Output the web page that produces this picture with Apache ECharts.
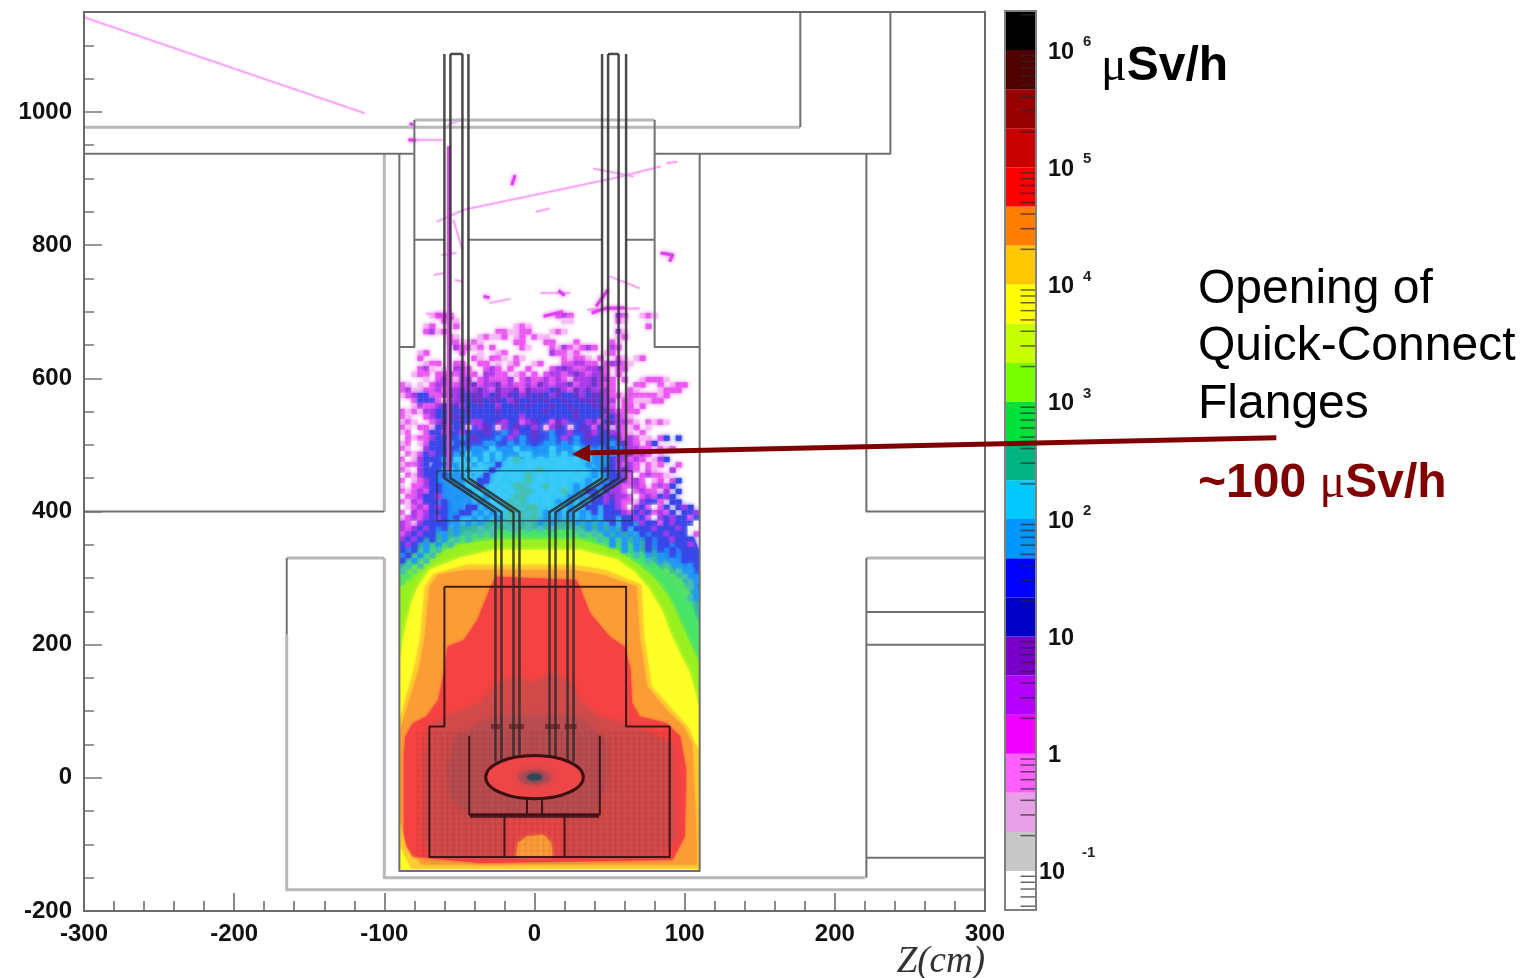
<!DOCTYPE html>
<html><head><meta charset="utf-8">
<style>html,body{margin:0;padding:0;background:#fff}#c{width:1533px;height:978px;filter:blur(0.6px)}</style>
<script src="https://cdn.jsdelivr.net/npm/echarts@6/dist/echarts.min.js"></script>
</head><body><div id="c"></div>
<script>
// ---- colour scale (uSv/h): band edges and colours, bottom to top
const colorEdges=[0.0464,0.1,0.215,0.464,1,2.15,4.64,10,21.5,46.4,100,215,464,1000,2150,4640,1e4,2.15e4,4.64e4,1e5,2.15e5,4.64e5,1e6,2154435];
const colorBands=['#ffffff','#c8c8c8','#e6a0e6','#ff60ff','#f000ff','#b400ff','#7800c8','#0000c8','#0000ff','#0096ff','#00c8ff','#00b482','#00e13c','#78ff00','#c8ff00','#ffff00','#ffc800','#ff7d00','#ff0000','#c80000','#960000','#500000','#000000'];
const colorDecades=[0.01,0.1,1,10,100,1000,1e4,1e5,1e6];
const colorMultipliers=[2,3,4,5,6,7,8,9];
const colorTickLabels=[[1e6,'10','6'],[1e5,'10','5'],[1e4,'10','4'],[1e3,'10','3'],[1e2,'10','2'],[10,'10',''],[1,'1',''],[0.1,'10','-1']];

// ---- dose-rate contours, in (Z cm, height cm)
const blueArea=[[-90,372],[-85,400],[-74,437],[-61,512],[-36,540],[30,540],[57,515],[66,457],[84,397],[104,372],[110,340],[110,200],[-90,200]];
const azureArea=[[-90,335],[-78,380],[-65,400],[-65,455],[-45,490],[-20,497],[30,500],[48,490],[62,455],[66,400],[85,370],[100,335],[110,280],[110,200],[-90,200]];
const cyanArea=[[-60,370],[-48,395],[-44,440],[-35,470],[-10,478],[25,482],[40,470],[50,440],[62,395],[72,370],[40,340],[-30,340]];
const tealArea=[[-90,320],[-81,345],[-70,362],[-52,378],[-25,388],[30,388],[61,372],[75,352],[88,325],[100,295],[110,260],[110,200],[-90,200]];
const greenArea=[[-90,305],[-81,337],[-70,350],[-52,362],[-25,372],[30,372],[61,357],[75,332],[88,307],[97,298],[103,280],[106,250],[110,230],[110,-140],[-90,-140]];
const limeArea=[[-90,285],[-82,315],[-70,332],[-52,350],[-27,358],[30,358],[55,342],[68,322],[80,300],[90,270],[96,240],[104,200],[110,170],[110,-140],[-90,-140]];
const yellowArea=[[-90,170],[-87,215],[-82,262],[-78,285],[-70,312],[-50,330],[-27,342],[30,342],[55,328],[66,310],[76,285],[85,250],[90,220],[96,190],[103,160],[108,120],[110,100],[110,-140],[-90,-140]];
const amberArea=[[-90,85],[-86,118],[-80,165],[-76,212],[-73,287],[-67,306],[-45,320],[25,320],[47,312],[71,290],[73,212],[78,137],[92,102],[102,77],[107,52],[110,40],[110,-136],[-82,-136],[-90,-100]];
const orangeArea=[[-90,67],[-84,112],[-77,162],[-73,212],[-70,287],[-64,305],[-45,312],[25,312],[45,305],[68,287],[70,212],[75,137],[88,102],[99,77],[105,52],[107,-38],[108,-100],[108,-130],[-75,-130],[-85,-100],[-90,-60]];
const redArea=[[-87,-83],[-87,32],[-86,62],[-81,82],[-72,92],[-64,117],[-60,162],[-58,197],[-47,207],[-38,237],[-30,282],[-26,302],[28,297],[30,287],[37,247],[50,212],[60,197],[64,162],[65,112],[70,92],[88,82],[97,62],[101,12],[100,-88],[92,-123],[-36,-128],[-81,-118],[-85,-103]];
const darkRedArea=[[-70,77],[-58,92],[-36,112],[-27,137],[-14,152],[0,142],[12,157],[24,142],[30,117],[41,92],[66,77],[92,52],[94,-88],[84,-118],[-70,-118],[-74,-88],[-74,32]];
const coreHaloArea=[[-58,17],[-52,62],[-27,92],[30,92],[48,52],[48,-8],[39,-58],[-43,-58],[-56,-28]];
const lowerRedArea=[[-20,-63],[20,-63],[20,-118],[-20,-118]];
const orangeHole=[[-12,-118],[-11,-98],[-5,-88],[6,-86],[11,-98],[12,-118]];
const maskAreas=[[[-99,-149],[-90,-149],[-90,720],[-99,720]],[[110,-149],[120,-149],[120,720],[110,720]],[[-99,-149],[120,-149],[120,-140.5],[-99,-140.5]]];

// ---- speckled low-dose cells: rows from height 694 down by 8 cm, columns from Z -88 by 4 cm
const speckleCodes={w:'#ffffff',p:'#f6bcf6',m:'#ea58f2',v:'#ac3cea',d:'#6e34cc',b:'#3a48e8',a:'#2498f8',c:'#3ccaf8',t:'#48c0b0',g:'#58e068'};
const speckleRows=[
".....pmmm.................mvm.......vm..pmp........",
".......mpp.................pp.......mp.............",
"....pm..pm.........pmp...................m.........",
"....mvpm........mmppmm...pmp........vp.............",
"........mp...pmppm.pm.mpp...........pm.............",
"........mmppmp.....mm...mm...m.....mp..............",
".........vmmpm.m....mp...mpvmpmvm..vm..............",
"...pm.....m..p..pm.......vmmpm....pm...............",
"...m........mp.mmp.mp......mpmmp.m..mp.pm..........",
"....pmm..mm..mm.p.pm..pm...mmvvmm.mvvmp............",
"...mvp.p.vvm..mvm.m..m...mvdvmmvvdm.mm.............",
"..pmm.mmvmvmm.vvmm.pm.m.mvvmvdvmvvm.m..............",
"....p.mvmpvv.mvmmmv.mvmmvmvmpvvvdvvm.m..pmmmp......",
"mp.p.mvvmmvvdmvvdmvmmvmdvmvvdmvvdvmm...mm..m.pmm...",
"mvppmmvmvvdvvdvmdvvdmdvvvbdvmdvdvvvm..mp...pmmm....",
"pmvbbmmvdvdbddvbdvdbvdbdbvdbbdvbddvmmpmmmmmpm......",
"..mbbbmpvvdbddbddbvdbbdbdbbdbbdddbvv.mmpppmm.......",
"..pvmmvdbdvbbdbbvbbdbdbbbdbbdbbbddvm.mm.m..........",
"mpmpvvbbdbbdbbbbdbbbbbbbdbbbbdbbbbdvmmmm...........",
"mp..mvbbbdbbbbbbbbbbvbbbbbbbbdbbbbvbvmp............",
"pmp..mvdbbdbvvb.dv.bmvd.bmdv..bvdmbdvvmp.mpmp......",
"mp.mmpbdvbbp.vd.pv.d.bv.pvd.p.d.mbv.vmpm.p.........",
"pmw.mbbvb.vb.bd..a.vb.d..ab.vb.dv.bvvmp.m..........",
"wmpmmvbbb.a.d.b.a.v.a.db.a.v.a.d.b.bdmvmpp.mb.b....",
"pmwpmbb.a.b...aa.ba.a.b.aa.a.a.b.b.a.dvm.mb........",
"mpw.vbb.b.a.aa.c.a.c.a.a.c.a.c.a.a..a.vvmm.mpm.....",
"wmpmbvbb.a.c.ac.c.a.cc.a.c.c.a.c.a.a.vdmvm.p.......",
"mwpvbb.a.cc.c.c.c.ct.c.c.ccc.c.c.a.bvvmvm.pvb......",
"pmmvb.b.a.cc.c..b.c..cc.c.cc...a.a.bvmvm.mpm..m....",
"mpwvbb.ac.c.cc.b.c...c.t..c.c.c.a.bbvdvm.mp..v.....",
"wmpvbb.b.a.c..b.c.cc.t.c.c.c..c.a.abbvmwmvmmp......",
"mwpmvb.a.a.c.bb.c..c.t.c.c.c.c.a..abbdmvmwpm.mb....",
"pwmmvbb.aa.c.b.c.c.tt.c.tc.c.a.a.abbvmmvm.mvmb.....",
"mpmvmbb..a.a.c..c.c.tt.c.c.t.a.bb.bvvmwmvmmpv.b....",
"wmmvbbv.a.aa..a.cc.tt.c.c.c.a.a.bbvdvvmwmvmbvb.....",
"mpvmbb.b.a.a.a.c..t.t.c.c.a.a.a.bbvbvmmpvbbm.bb....",
"wpmvmbvb.a.bb.a.c.tt.tt.c.c.a..bb.bbvmwvbmwmb.bvb..",
"mwvmvbbb..bb.a.a..t.t.t.a.a.a.a.b.bbbvmbvbmvmb.bbv.",
"pmvmvbvb.b..a.a.a.tt.tt.a.a.a.a.a.bb.bbvbmwvbvbbmb.",
"vmpvbbbb.a.a.a...t.t.t.a.a...a.a.a.b.bb.vbbmbvbbbw.",
"vmvbvb.b.a...t.t..tt.t.t.t...t.a.a.a.b.bbbvbbbvbw..",
"mvbvbb.a.a.t.t.t..............t.t.a.a.a.b.bbvbbbwm.",
"vbvb.b.a.t.t.....................t.a.a.a.b.bbvbbb..",
"bvb.a.a.t..........................a.a.a.b.bb.bbv..",
"b.b.a.t..............................a.a.b.b.b.bb.",
".b.a.t.................................t.a.a.b.bbb",
"b.a.t....................................t.a.a.bb.",
".t.t........................................t.a.ab",
"t.g.........................................g.t.a.",
".g...........................................g.t.ab",
"g.............................................g.ta",
"..............................................g.t.",
"...............................................g.a",
"................................................ta"];

// ---- isolated tracks above the main cloud
const paleTracks=[[[-300,1142],[-113,998]],[[-65,835],[-47,853],[52,900],[84,918]],[[39,915],[66,903]],[[88,923],[95,925]],[[-82,958],[-61,958]],[[-58,980],[-48,989]],[[-67,755],[-60,758]],[[-53,748],[-48,745]],[[-62,785],[-52,788]],[[-30,713],[-16,719]],[[4,728],[24,728]],[[-72,697],[-54,693]],[[35,703],[70,705]],[[50,753],[70,735]],[[1,850],[10,855]],[[-54,838],[-48,793]]];
const strongTracks=[[[-83,983],[-80,978]],[[-84,958],[-79,957]],[[-13,905],[-15,890]],[[-34,723],[-30,721]],[[6,693],[19,700]],[[41,708],[49,733]],[[84,788],[92,785],[90,775]],[[-66,696],[-54,690]],[[38,698],[47,705],[60,706]],[[16,732],[20,724]]];
const pipeTrack=[[[-57,948],[-57,460]]];

// ---- detector geometry
const thickWalls=[[[-300,977],[177,977]],[[-80,988],[80,988]],[[-100,937],[-100,400]],[[-100,330],[-100,-150],[220,-150]],[[-165,215],[-165,-168],[300,-168]],[[221,330],[300,330]],[[-165,330],[-100,330]]];
const thinWalls=[[[177,1150],[177,977]],[[237,1150],[237,937],[80,937]],[[-300,937],[-80,937]],[[-80,988],[-80,647],[-90,647]],[[80,988],[80,647],[110,647]],[[-90,937],[-90,-140],[110,-140],[110,937]],[[-300,400],[-100,400]],[[221,937],[221,400],[300,400]],[[221,330],[221,-150]],[[221,249],[300,249]],[[221,200],[300,200]],[[221,-120],[300,-120]],[[-80,808],[-60,808]],[[-44,808],[45,808]],[[61,808],[80,808]],[[-165,330],[-165,215]]];
const pipeWalls=[
 [[-60,1087],[-60,450],[-26,399],[-26,24]],[[-56,1087],[-56,450],[-22,399],[-22,24]],[[-48,1087],[-48,450],[-14,399],[-14,32]],[[-44,1087],[-44,450],[-10,399],[-10,32]],
 [[45,1087],[45,450],[10,399],[10,32]],[[49,1087],[49,450],[14,399],[14,32]],[[56,1087],[56,450],[22,399],[22,24]],[[61,1087],[61,450],[26,399],[26,24]],
 [[-56,1087],[-48,1087]],[[49,1087],[56,1087]]];
const chamberBox=[[[-65,461],[65,461]],[[-65,461],[-65,386],[65,386],[65,461]]];
const shieldOutline=[[[-60,287],[61,287],[61,77],[90,77],[90,-119],[-70,-119],[-70,77],[-60,77],[-60,287]]];
const innerVessel=[[[-43.5,63],[-43.5,-55],[43.5,-55],[43.5,63]],[[-20,-55],[-20,-119]],[[20,-55],[20,-119]],[[-5,-30],[-5,-55]],[[5,-30],[5,-55]]];
const vesselFloor=[[[-43,-57],[43,-57]]];
const pipeCollars=[[[-29,77],[-23,77]],[[-17,77],[-7,77]],[[7,77],[17,77]],[[20,77],[28,77]]];
const targetCentre=[0,1], targetRadius=32.5;
const meshZ=[-78,-74,-70,-66,-62,-58,-54,-50,-46,-42,-38,-34,-30,-26,-22,-18,-14,-10,-6,-2,2,6,10,14,18,22,26,30,34,38,42,46,50,54,58,62,66,70,74,78,82,86,90];
const meshHeight=[-117,-109,-101,-93,-85,-77,-69,-61,-53,-45,-37,-29,-21,-13,-5,3,11,19,27,35,43,51,59,67];

// ---- annotation arrow
const arrowShaft=[[494,510.5],[37,488]];
const arrowHead=[[25,486],[37,501],[37,474]];

const fill=(pts,color,z,soft)=>({type:'custom',xAxisIndex:0,yAxisIndex:0,z,silent:true,clip:false,data:[0],
  renderItem:(p,api)=>({type:'polygon',shape:{points:pts.map(q=>api.coord(q))},style:{fill:color,shadowBlur:soft||0,shadowColor:color}})});
const strokes=(lines,color,w,z,soft)=>({type:'custom',xAxisIndex:0,yAxisIndex:0,z,silent:true,clip:false,data:lines.map((_,i)=>i),
  renderItem:(p,api)=>({type:'polyline',shape:{points:lines[api.value(0)].map(q=>api.coord(q))},style:{fill:null,stroke:color,lineWidth:w,lineCap:'butt',lineJoin:'round',shadowBlur:soft||0,shadowColor:color}})});
const ell=(cx,cy,r,fillC,stroke,w,z,soft)=>({type:'custom',xAxisIndex:0,yAxisIndex:0,z,silent:true,data:[0],
  renderItem:(p,api)=>{const c=api.coord([cx,cy]),s=api.size([r,r]);return {type:'ellipse',shape:{cx:c[0],cy:c[1],rx:s[0],ry:s[1]},style:{fill:fillC,stroke:stroke,lineWidth:w,shadowBlur:soft||0,shadowColor:fillC}};}});

const speckleData=[];
speckleRows.forEach((row,r)=>{for(let c=0;c<row.length&&c<50;c++){const k=row[c];if(k!=='.')speckleData.push([-88+4*c,694-8*r,Object.keys(speckleCodes).indexOf(k)]);}});
const codeColours=Object.values(speckleCodes);
const colorTicks=[];colorDecades.forEach(d=>colorMultipliers.forEach(m=>{const v=d*m;if(v>colorEdges[0]&&v<colorEdges[23])colorTicks.push(v);}));

const font='"Liberation Sans",Arial,sans-serif';
const chart=echarts.init(document.getElementById('c'),null,{renderer:'canvas'});
chart.setOption({
 animation:false,backgroundColor:'#fff',
 grid:[{left:84,right:548,top:12,height:899,show:true,borderColor:'#6a6a6a',borderWidth:2,backgroundColor:'transparent',z:30,outerBoundsMode:'none'},
       {left:1005,width:31,top:11,height:899,show:false,outerBoundsMode:'none'}],
 xAxis:[{gridIndex:0,type:'value',min:-300,max:300,interval:100,splitLine:{show:false},
   axisLine:{onZero:false,lineStyle:{color:'#555',width:2}},axisTick:{inside:true,length:18,lineStyle:{color:'#666',width:1.5}},
   minorTick:{show:true,splitNumber:5,length:10,lineStyle:{color:'#666',width:1.5}},
   axisLabel:{margin:11,color:'#111',fontFamily:font,fontWeight:'bold',fontSize:24}},
  {gridIndex:1,type:'value',min:0,max:1,show:false}],
 yAxis:[{gridIndex:0,type:'value',min:-200,max:1150,interval:200,splitLine:{show:false},
   axisLine:{onZero:false,lineStyle:{color:'#555',width:2}},axisTick:{inside:true,length:18,lineStyle:{color:'#777',width:1.5}},
   axisLabel:{margin:12,color:'#111',fontFamily:font,fontWeight:'bold',fontSize:24,showMaxLabel:false,padding:[3,0,0,0],formatter:v=>String(v)}},
  {gridIndex:0,type:'value',min:-200,max:1150,interval:50,position:'left',splitLine:{show:false},
   axisLine:{show:false,onZero:false},axisLabel:{show:false},axisTick:{inside:true,length:10,lineStyle:{color:'#777',width:1.5}}},
  {gridIndex:1,type:'log',logBase:10,min:colorEdges[0],max:colorEdges[23],position:'right',splitLine:{show:false},
   axisLine:{show:false},axisTick:{show:false},axisLabel:{show:false}}],
 graphic:[
  {type:'text',x:985,y:962,z:50,style:{text:'Z(cm)',font:'italic 37px "Liberation Serif",serif',fill:'#333',align:'right',verticalAlign:'middle'}},
  {type:'text',x:1198,y:290,z:50,style:{text:'Opening of',font:'48px '+font,fill:'#000',verticalAlign:'middle'}},
  {type:'text',x:1198,y:347,z:50,style:{text:'Quick-Connect',font:'48px '+font,fill:'#000',verticalAlign:'middle'}},
  {type:'text',x:1198,y:405,z:50,style:{text:'Flanges',font:'48px '+font,fill:'#000',verticalAlign:'middle'}},
  {type:'text',x:1198,y:484,z:50,style:{text:'{b|~100 }{m|μ}{b|Sv/h}',verticalAlign:'middle',rich:{b:{fontSize:48,fontWeight:'bold',fontFamily:font,color:'#800000',fill:'#800000'},m:{fontSize:48,fontFamily:'"Liberation Serif",serif',color:'#800000',fill:'#800000'}}}},
  {type:'text',x:1101,y:67,z:50,style:{text:'{m|μ}{b|Sv/h}',verticalAlign:'middle',rich:{b:{fontSize:48,fontWeight:'bold',fontFamily:font,color:'#000',fill:'#000'},m:{fontSize:48,fontFamily:'"Liberation Serif",serif',color:'#000',fill:'#000'}}}}
 ],
 series:[
  fill(tealArea,'#38b8a0',2,5),fill(blueArea,'#3a50ec',1,5),fill(azureArea,'#2094f8',1.5,6),fill(cyanArea,'#34c8f8',1.8,6),
  fill(greenArea,'#48e468',3,5),fill(limeArea,'#98f020',4,5),fill(yellowArea,'#ffff28',5,5),fill(amberArea,'#ffcc30',6,3),fill(orangeArea,'#fb9c34',7,3),
  fill(redArea,'#f54242',8,3),fill(darkRedArea,'#d24a4a',9,6),fill(coreHaloArea,'#b84c50',10,10),fill(lowerRedArea,'#e64648',10,6),fill(orangeHole,'#fc9c38',11,4),
  {type:'custom',xAxisIndex:0,yAxisIndex:0,z:11.5,silent:true,data:[0],
   renderItem:(p,api)=>{const kids=[];
     meshZ.forEach(z=>{const a=api.coord([z,-118]),b=api.coord([z,70]);kids.push({type:'line',shape:{x1:a[0],y1:a[1],x2:b[0],y2:b[1]},style:{stroke:'rgba(60,10,20,0.07)',lineWidth:1.5}});});
     meshHeight.forEach(h=>{const a=api.coord([-78,h]),b=api.coord([90,h]);kids.push({type:'line',shape:{x1:a[0],y1:a[1],x2:b[0],y2:b[1]},style:{stroke:'rgba(60,10,20,0.05)',lineWidth:1.5}});});
     return {type:'group',children:kids};}},
  {type:'custom',xAxisIndex:0,yAxisIndex:0,z:12,silent:true,data:speckleData,
   renderItem:(p,api)=>{const c=api.coord([api.value(0)-2,api.value(1)+4]),s=api.size([4,8]),col=codeColours[api.value(2)];
     return {type:'rect',shape:{x:c[0],y:c[1],width:s[0],height:s[1]},style:{fill:col,shadowBlur:4,shadowColor:col}};}},
  strokes(paleTracks,'#f8a4f8',1.6,13,2),strokes(strongTracks,'#e040f0',3,13,4),strokes(pipeTrack,'#d050e0',3.5,13,2),
  ...maskAreas.map(m=>fill(m,'#ffffff',14)),
  strokes(thickWalls,'#b8b8b8',3,15),strokes(thinWalls,'#707070',2,16),
  strokes(pipeWalls,'rgba(45,45,45,0.85)',2.5,18),strokes(chamberBox,'rgba(20,40,60,0.6)',1.6,17),
  strokes(shieldOutline,'rgba(50,15,15,0.9)',2,17),strokes(innerVessel,'rgba(50,15,15,0.9)',2,17),strokes(vesselFloor,'rgba(60,15,20,0.85)',4,17),strokes(pipeCollars,'rgba(70,20,20,0.55)',5,17),
  ell(targetCentre[0],targetCentre[1],targetRadius,'#ee4648','#3a1010',3,19),
  ell(0,1,11,'#b04a54',null,0,20,8),ell(0,1,5,'#2e4858',null,0,21,4),
  {type:'custom',xAxisIndex:1,yAxisIndex:2,z:5,silent:true,data:colorBands.map((_,i)=>[0,colorEdges[i],colorEdges[i+1],i]),encode:{x:0,y:1},
   renderItem:(p,api)=>{const a=api.coord([0,api.value(1)]),b=api.coord([1,api.value(2)]);
     return {type:'rect',shape:{x:a[0],y:b[1],width:b[0]-a[0],height:a[1]-b[1]},style:{fill:colorBands[api.value(3)]}};}},
  {type:'custom',xAxisIndex:1,yAxisIndex:2,z:6,silent:true,data:colorTicks.map(v=>[0,v]),
   renderItem:(p,api)=>{const a=api.coord([0.5,api.value(1)]),b=api.coord([1,api.value(1)]);
     return {type:'line',shape:{x1:a[0],y1:a[1],x2:b[0],y2:b[1]},style:{stroke:'rgba(40,40,40,0.7)',lineWidth:1.5}};}},
  {type:'custom',xAxisIndex:1,yAxisIndex:2,z:7,silent:true,data:[0],
   renderItem:(p,api)=>{const a=api.coord([0,colorEdges[0]]),b=api.coord([1,colorEdges[23]]);
     return {type:'rect',shape:{x:a[0],y:b[1],width:b[0]-a[0],height:a[1]-b[1]},style:{fill:null,stroke:'#808080',lineWidth:2}};}},
  {type:'custom',xAxisIndex:1,yAxisIndex:2,z:7,silent:true,data:colorTickLabels.map((l,i)=>[0,l[0],i]),
   renderItem:(p,api)=>{const l=colorTickLabels[api.value(2)],c=api.coord([1,api.value(1)]),neg=l[2]==='-1';
     return {type:'group',children:[
      {type:'text',x:c[0]+(neg?3:12),y:c[1]+2,style:{text:l[1],font:'bold 23.5px '+font,fill:'#111',verticalAlign:'middle'}},
      {type:'text',x:c[0]+(neg?46:47),y:c[1]+(neg?-18:-8),style:{text:l[2],font:'bold 15px '+font,fill:'#222',verticalAlign:'middle'}}]};}},
  strokes([arrowShaft],'#800000',5,40),fill(arrowHead,'#800000',41)
 ]
});
</script></body></html>
